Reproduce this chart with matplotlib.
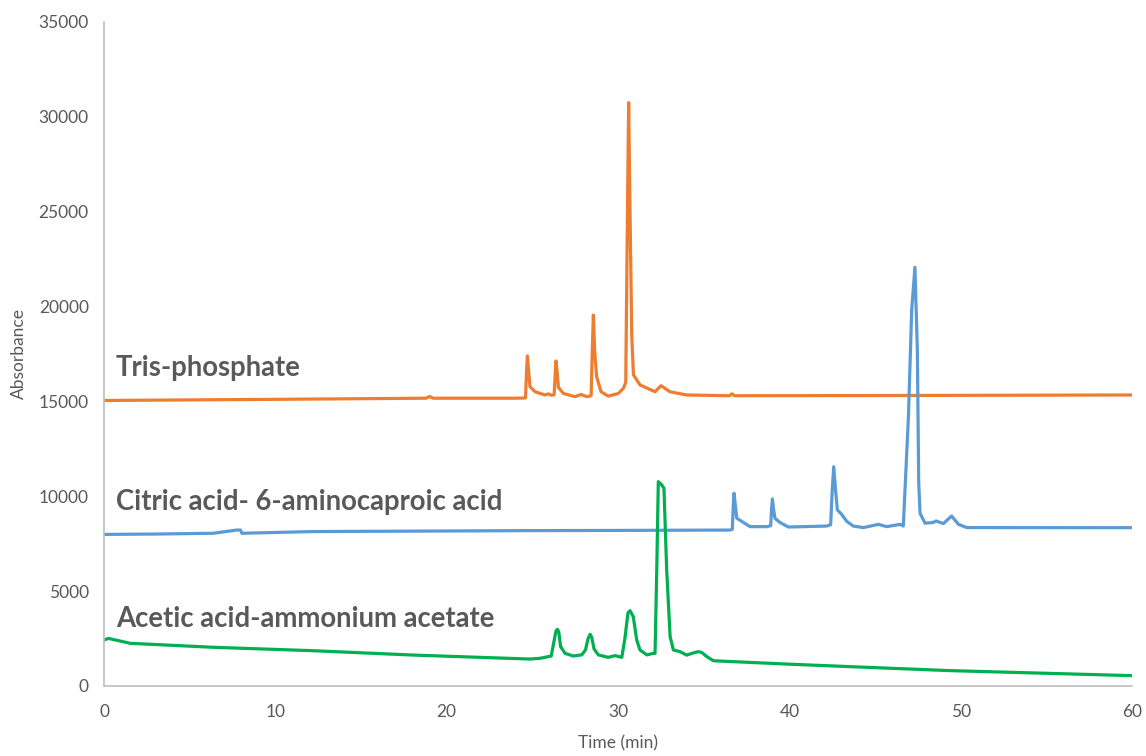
import matplotlib
matplotlib.use("Agg")
import matplotlib.pyplot as plt

# trace vertices (time in min, absorbance)
tris_t = [0, 10, 18.8, 19.0, 19.2, 24.0, 24.6, 24.66, 24.71, 24.8, 24.86, 25.16, 25.74, 25.93, 26.1,
          26.27, 26.33, 26.38, 26.45, 26.52, 26.81, 27.49, 27.84, 28.17, 28.43, 28.5, 28.56, 28.64, 28.75,
          29.01, 29.43, 30.02, 30.31, 30.45, 30.55, 30.62, 30.70, 30.80, 30.9, 31.28, 32.16, 32.51, 33.03,
          34.0, 36.5, 36.65, 36.8, 45, 60]
tris_y = [15050, 15110, 15170, 15260, 15170, 15170, 15180, 16600, 17400, 16400, 15780, 15510, 15340, 15400, 15330,
          15350, 16400, 17130, 16500, 15740, 15420, 15250, 15370, 15250, 15300, 17800, 19550, 17600, 16300,
          15510, 15280, 15420, 15690, 16000, 25000, 30750, 25000, 18500, 16400, 15870, 15510, 15830, 15510,
          15340, 15300, 15400, 15300, 15310, 15340]

citric_t = [0, 3, 6.36, 7.74, 7.97, 8.04, 12.2, 24.86, 30, 36.5, 36.67, 36.72, 36.77, 36.85, 36.93, 37.22,
            37.70, 38.68, 38.91, 38.96, 39.01, 39.08, 39.16, 39.45, 39.94, 42.18, 42.41, 42.5, 42.59, 42.7,
            42.80, 43.04, 43.35, 43.73, 44.32, 45.20, 45.68, 46.46, 46.65, 46.95, 47.14, 47.33, 47.47, 47.55,
            47.63, 47.92, 48.40, 48.56, 48.99, 49.47, 49.87, 50.35, 60]
citric_y = [7990, 8010, 8050, 8220, 8220, 8050, 8140, 8190, 8200, 8220, 8250, 9400, 10160, 9500, 8840, 8680,
            8400, 8400, 8450, 9300, 9860, 9300, 8840, 8620, 8380, 8430, 8500, 10300, 11560, 10300,
            9280, 9060, 8680, 8430, 8350, 8520, 8400, 8520, 8430, 14200, 19820, 22070, 17710, 10680,
            9100, 8580, 8620, 8700, 8560, 8960, 8520, 8350, 8345]

acetic_t = [0, 0.25, 1.52, 6.38, 12.22, 18.05, 24.86, 25.45, 26.1, 26.25, 26.38, 26.46, 26.54, 26.65, 26.91, 27.39,
            27.88, 28.1, 28.25, 28.37, 28.47, 28.6, 28.85, 29.43, 29.83, 30.22, 30.4, 30.58, 30.70, 30.89, 31.09,
            31.28, 31.68, 32.06, 32.16, 32.26, 32.35, 32.55, 32.68, 32.84, 33.04, 33.23, 33.62, 34.0, 34.5,
            34.69, 34.9, 35.18, 35.57, 40, 43.54, 49.38, 60]
acetic_y = [2425, 2510, 2250, 2040, 1860, 1630, 1420, 1460, 1580, 2300, 2900, 2990, 2850, 2070, 1720, 1580,
            1640, 1900, 2500, 2725, 2550, 1950, 1640, 1510, 1600, 1510, 2500, 3850, 3970, 3650, 2425,
            1900, 1640, 1720, 1720, 6110, 10770, 10600, 10420, 6110, 2600, 1900, 1810, 1630, 1770,
            1810, 1760, 1550, 1330, 1150, 1020, 810, 545]

series = [(tris_t, tris_y, "#ED7D31"), (citric_t, citric_y, "#5B9BD5"), (acetic_t, acetic_y, "#00B050")]
labels = [("Tris-phosphate", 16760), ("Citric acid- 6-aminocaproic acid", 9700),
          ("Acetic acid-ammonium acetate", 3530)]

plt.rcParams['font.family'] = ['Lato', 'DejaVu Sans']
fig = plt.figure(figsize=(11.46, 7.56), dpi=100)
ax = fig.add_axes([0.0908, 0.0926, 0.897, 0.8783])
for t, y, c in series:
    ax.plot(t, y, color=c, lw=2.3, solid_joinstyle="round", solid_capstyle="round")
for txt, y in labels:
    ax.text(0.7, y, txt, fontsize=19.8, fontweight="bold", color="#595959", va="center", ha="left")

ax.set_xlim(0, 60); ax.set_ylim(0, 35000)
ax.set_xticks(range(0, 61, 10)); ax.set_yticks(range(0, 35001, 5000))
ax.tick_params(length=0, labelsize=12.5, labelcolor="#595959")
ax.tick_params(axis="x", pad=13)
ax.tick_params(axis="y", pad=11)
for s in ("top", "right"):
    ax.spines[s].set_visible(False)
for s in ("left", "bottom"):
    ax.spines[s].set_color("#BFBFBF"); ax.spines[s].set_linewidth(1.2)
ax.set_xlabel("Time (min)", fontsize=12.5, color="#595959", labelpad=11)
ax.set_ylabel("Absorbance", fontsize=12.5, color="#595959", labelpad=8)
fig.savefig("out.png", dpi=100)
